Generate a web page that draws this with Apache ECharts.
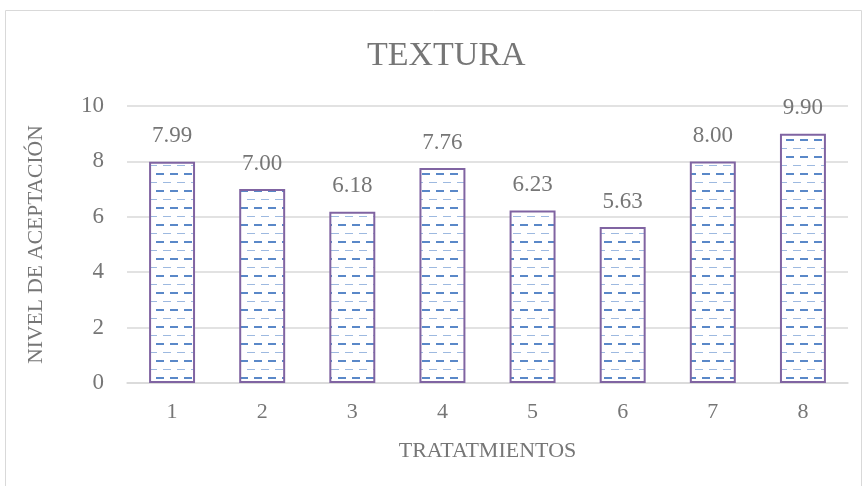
<!DOCTYPE html>
<html>
<head>
<meta charset="utf-8">
<script src="https://cdn.jsdelivr.net/npm/echarts@6/dist/echarts.min.js"></script>
<style>
  html, body { margin: 0; padding: 0; background: #fff; }
  #chart { width: 864px; height: 486px; }
</style>
</head>
<body>
<div id="chart"></div>
<script>
const categories = ['1', '2', '3', '4', '5', '6', '7', '8']
// bar heights as drawn; the last bar is drawn near 9 though labelled 9.90
const values = [7.99, 7.0, 6.18, 7.76, 6.23, 5.63, 8.0, 9.0]
const labels = ['7.99', '7.00', '6.18', '7.76', '6.23', '5.63', '8.00', '9.90']
const yTicks = { min: 0, max: 10, interval: 2 }

const font = 'Liberation Serif'

// dashed fill pattern like the original
function makePattern() {
  const c = document.createElement('canvas')
  c.width = 14
  c.height = 17
  const ctx = c.getContext('2d')
  ctx.fillStyle = '#ffffff'
  ctx.fillRect(0, 0, 14, 17)
  ctx.fillStyle = '#5a88c8'
  ctx.fillRect(2, 3, 8, 2)
  ctx.fillStyle = '#9db9e0'
  ctx.fillRect(9, 12, 8, 1)
  ctx.fillRect(0, 12, 3, 1)
  return c
}

const chart = echarts.init(document.getElementById('chart'))
chart.setOption({
  animation: false,
  title: {
    text: 'TEXTURA',
    left: 362,
    top: 34,
    textStyle: { fontFamily: font, fontSize: 34, fontWeight: 'normal', color: '#767676' },
  },
  graphic: [{
    type: 'rect',
    shape: { x: 5.5, y: 10.5, width: 856, height: 500 },
    style: { fill: 'none', stroke: '#d9d9d9', lineWidth: 1 },
  }],
  grid: { left: 127, right: 16, top: 106, bottom: 103 },
  xAxis: {
    type: 'category',
    data: categories,
    name: 'TRATATMIENTOS',
    nameLocation: 'middle',
    nameGap: 57,
    nameTextStyle: { fontFamily: font, fontSize: 22, color: '#767676' },
    axisLine: { lineStyle: { color: '#d9d9d9', width: 1.5 } },
    axisTick: { show: false },
    axisLabel: { fontFamily: font, fontSize: 22, color: '#767676', margin: 18 },
  },
  yAxis: {
    type: 'value',
    min: yTicks.min,
    max: yTicks.max,
    interval: yTicks.interval,
    name: 'NIVEL DE ACEPTACIÓN',
    nameLocation: 'middle',
    nameGap: 80,
    nameTextStyle: { fontFamily: font, fontSize: 21.5, color: '#767676' },
    axisLine: { show: false },
    axisTick: { show: false },
    splitLine: { lineStyle: { color: '#d9d9d9', width: 1.5 } },
    axisLabel: { fontFamily: font, fontSize: 23, color: '#767676', margin: 23 },
  },
  series: [{
    type: 'bar',
    data: values,
    barWidth: '51%',
    itemStyle: {
      color: { image: makePattern(), repeat: 'repeat' },
      borderColor: '#8064a2',
      borderWidth: 2,
    },
    label: {
      show: true,
      position: 'top',
      distance: 14,
      fontFamily: font,
      fontSize: 23,
      color: '#767676',
      formatter: p => labels[p.dataIndex],
    },
  }],
})
</script>
</body>
</html>
